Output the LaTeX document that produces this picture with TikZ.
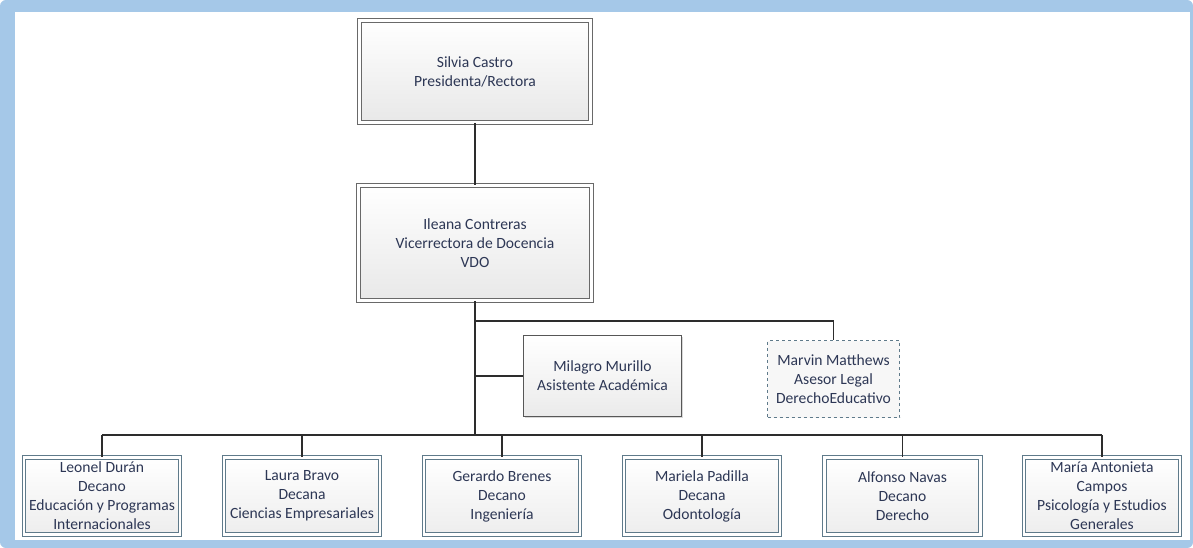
\documentclass[tikz,border=0pt]{standalone}
\usepackage{fontspec}
\setmainfont{Carlito}
\usetikzlibrary{shadows}

\definecolor{framebl}{RGB}{165,200,232}
\definecolor{txtcol}{RGB}{45,55,85}
\definecolor{boxgray}{RGB}{105,105,105}
\definecolor{boxslate}{RGB}{95,122,138}
\definecolor{linecol}{RGB}{45,45,45}

\tikzset{
  chart/.style={font=\fontsize{15.6}{19}\selectfont, text=txtcol, align=center, inner sep=0pt},
  headbox/.style={chart, draw=boxgray, line width=1pt, double=white, double distance=3pt,
    top color=white, bottom color=black!9, drop shadow={opacity=0.35, shadow xshift=1.5pt, shadow yshift=-1.5pt}},
  deanbox/.style={chart, draw=boxslate, line width=1pt, double=white, double distance=2.5pt,
    top color=white, bottom color=black!7, minimum width=156pt, minimum height=77pt},
  staffbox/.style={chart, draw=linecol!80, line width=1.5pt, top color=white, bottom color=black!8,
    drop shadow={opacity=0.3, shadow xshift=1.5pt, shadow yshift=-1.5pt}},
  advisorbox/.style={chart, draw=boxslate, line width=1pt, dashed, fill=black!3},
  conn/.style={draw=linecol, line width=1.6pt}
}

\begin{document}
\begin{tikzpicture}[x=1pt, y=-1pt]
\useasboundingbox (0,0) rectangle (1193,548);

% Frame
\fill[framebl, rounded corners=6pt] (0,0) rectangle (1193,548);
\fill[white] (15,12) rectangle (1190,540);

% Head of the chart
\node[headbox, minimum width=231pt, minimum height=102pt] (rector) at (475,71.5)
  {Silvia Castro\\Presidenta/Rectora};
\node[headbox, minimum width=233pt, minimum height=115pt] (vdo) at (475,243)
  {Ileana Contreras\\Vicerrectora de Docencia\\VDO};

% Staff
\node[staffbox, minimum width=158pt, minimum height=81pt] (asist) at (602.5,376)
  {Milagro Murillo\\Asistente Académica};
\node[advisorbox, minimum width=132pt, minimum height=77pt] (legal) at (833.5,379)
  {Marvin Matthews\\Asesor Legal\\DerechoEducativo};

% Deans
\node[deanbox] (d1) at (102,496) {Leonel Durán\\Decano\\Educación y Programas\\Internacionales};
\node[deanbox] (d2) at (302,496) {Laura Bravo\\Decana\\Ciencias Empresariales};
\node[deanbox] (d3) at (502,496) {Gerardo Brenes\\Decano\\Ingeniería};
\node[deanbox] (d4) at (702,496) {Mariela Padilla\\Decana\\Odontología};
\node[deanbox] (d5) at (902.5,496) {Alfonso Navas\\Decano\\Derecho};
\node[deanbox] (d6) at (1102,496) {María Antonieta\\Campos\\Psicología y Estudios\\Generales};

% Connectors
\coordinate (bus) at (475,435);
\coordinate (side) at (475,321);
\draw[conn] (rector.south) -- (vdo.north);
\draw[conn] (vdo.south) -- (bus);
\draw[conn] (side) -| (legal.north);
\draw[conn] (vdo.south |- asist.west) -- (asist.west);
\draw[conn] (d1.north |- bus) -- (d6.north |- bus);
\foreach \i in {1,...,6}
  \draw[conn] (d\i.north |- bus) -- (d\i.north);

\end{tikzpicture}
\end{document}
